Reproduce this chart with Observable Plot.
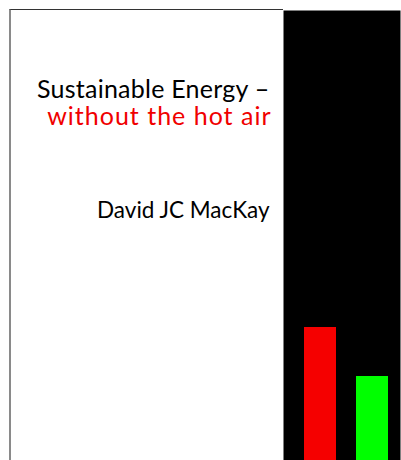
<!DOCTYPE html>
<html>
<head>
<meta charset="utf-8">
<script src="https://cdn.jsdelivr.net/npm/d3@7"></script>
<script src="https://cdn.jsdelivr.net/npm/@observablehq/plot@0.6"></script>
<style>
  html, body { margin: 0; padding: 0; background: #fff; }
  #wrap { position: relative; width: 401px; height: 460px; overflow: hidden; }
  #border { position: absolute; left: 9px; top: 9px; width: 274px; height: 460px;
            border-top: 1px solid #333; border-left: 2px solid #8a8a8a; box-sizing: border-box; }
  #chart { position: absolute; left: 0; top: 0; }
</style>
</head>
<body>
<div id="wrap"><div id="border"></div><div id="chart"></div></div>
<script>
const categories = ["consumption", "production"];
const values = [133, 84];
const colors = ["#f50000", "#00ff00"];
const titleLines = ["Sustainable Energy –", "without the hot air"];
const titleColors = ["#000000", "#f00000"];
const author = "David JC MacKay";

const bars = categories.map((c, i) => ({category: c, value: values[i], color: colors[i]}));
const font = "Lato, 'Open Sans', sans-serif";

const chart = Plot.plot({
  width: 401,
  height: 460,
  marginLeft: 283,
  marginRight: 1,
  marginTop: 10,
  marginBottom: 0,
  style: {background: "transparent", fontFamily: font, overflow: "visible"},
  x: {domain: categories, range: [304, 388.5], paddingInner: 0.39, paddingOuter: 0, axis: null},
  y: {domain: [0, 450], axis: null},
  marks: [
    Plot.frame({fill: "#000", stroke: null}),
    Plot.barY(bars, {x: "category", y: "value", fill: "color"}),
    Plot.text([titleLines[0]], {frameAnchor: "top-left", dx: -14, dy: 87, textAnchor: "end", lineAnchor: "bottom", fontSize: 25, fill: titleColors[0], fontFamily: font}),
    Plot.text([titleLines[1]], {frameAnchor: "top-left", dx: -12, dy: 114.5, textAnchor: "end", lineAnchor: "bottom", fontSize: 25, fill: titleColors[1], fontFamily: font}),
    Plot.text([author], {frameAnchor: "top-left", dx: -14, dy: 207, textAnchor: "end", lineAnchor: "bottom", fontSize: 22.5, fill: "#000", fontFamily: font})
  ]
});
d3.select(chart).selectAll("text")
  .filter(function() { return this.textContent === titleLines[0]; })
  .attr("letter-spacing", "0.25px");
d3.select(chart).selectAll("text")
  .filter(function() { return this.textContent === titleLines[1]; })
  .attr("letter-spacing", "1px");
document.getElementById("chart").appendChild(chart);
</script>
</body>
</html>
